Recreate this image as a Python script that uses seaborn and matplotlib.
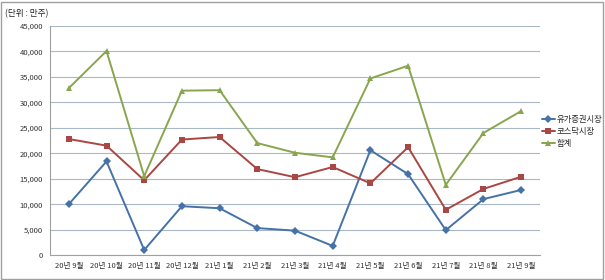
import matplotlib
matplotlib.use("Agg")
import matplotlib.pyplot as plt
import seaborn as sns
import pandas as pd
from matplotlib.ticker import FuncFormatter

months = ["20년 9월", "20년 10월", "20년 11월", "20년 12월", "21년 1월", "21년 2월",
          "21년 3월", "21년 4월", "21년 5월", "21년 6월", "21년 7월", "21년 8월", "21년 9월"]
kospi = [10000, 18400, 1000, 9600, 9200, 5300, 4800, 1800, 20600, 15900, 4900, 11000, 12800]
kosdaq = [22800, 21500, 14700, 22700, 23200, 16900, 15300, 17300, 14100, 21200, 8900, 13000, 15400]
total = [32800, 40100, 15500, 32300, 32400, 22000, 20100, 19200, 34700, 37200, 13800, 24000, 28300]
series_names = ["유가증권시장", "코스닥시장", "합계"]

sns.set_theme(style="white")
plt.rcParams['font.family'] = ['Noto Sans CJK KR', 'DejaVu Sans']

rows = []
for name, vals in zip(series_names, [kospi, kosdaq, total]):
    for i, (m, v) in enumerate(zip(months, vals)):
        rows.append({"idx": i, "month": m, "value": v, "series": name})
df = pd.DataFrame(rows)

fig = plt.figure(figsize=(6.05, 2.8), dpi=100)
ax = fig.add_axes([0.0826, 0.089, 0.81, 0.818])

palette = {"유가증권시장": "#4572A7", "코스닥시장": "#AA4643", "합계": "#89A54E"}
markers = {"유가증권시장": "D", "코스닥시장": "s", "합계": "^"}
sns.lineplot(data=df, x="idx", y="value", hue="series", style="series",
             palette=palette, markers=markers, dashes=False, linewidth=1.4,
             markersize=4, markeredgewidth=0, ax=ax)

ax.set_xlim(-0.5, len(months) - 0.5)
ax.set_ylim(0, 45000)
ax.set_yticks(range(0, 45001, 5000))
ax.yaxis.set_major_formatter(FuncFormatter(lambda v, p: f"{int(v):,}"))
ax.set_xticks(range(len(months)))
ax.set_xticklabels(months)
ax.tick_params(axis='both', labelsize=5.5, length=0, pad=5, colors='#333333')
ax.set_xlabel("")
ax.set_ylabel("")
ax.grid(axis='y', color='#A9B8C8', linewidth=0.8)
for s in ['top', 'right']:
    ax.spines[s].set_visible(False)
for s in ['left', 'bottom']:
    ax.spines[s].set_color('#A0A0A0')
    ax.spines[s].set_linewidth(0.8)

leg = ax.legend(loc='upper left', bbox_to_anchor=(1.0, 0.62), frameon=False,
                fontsize=6, handlelength=1.6, handletextpad=0.2, labelspacing=0.35,
                borderaxespad=0.0, borderpad=0.2)

fig.text(0.008, 0.95, "(단위 : 만주)", fontsize=6.2, ha='left', va='center', color='#222222')
fig.patches.append(plt.Rectangle((0.002, 0.004), 0.995, 0.99, transform=fig.transFigure,
                                 fill=False, edgecolor='#A0A0A0', linewidth=1.0))
fig.savefig("out.png", dpi=100)
